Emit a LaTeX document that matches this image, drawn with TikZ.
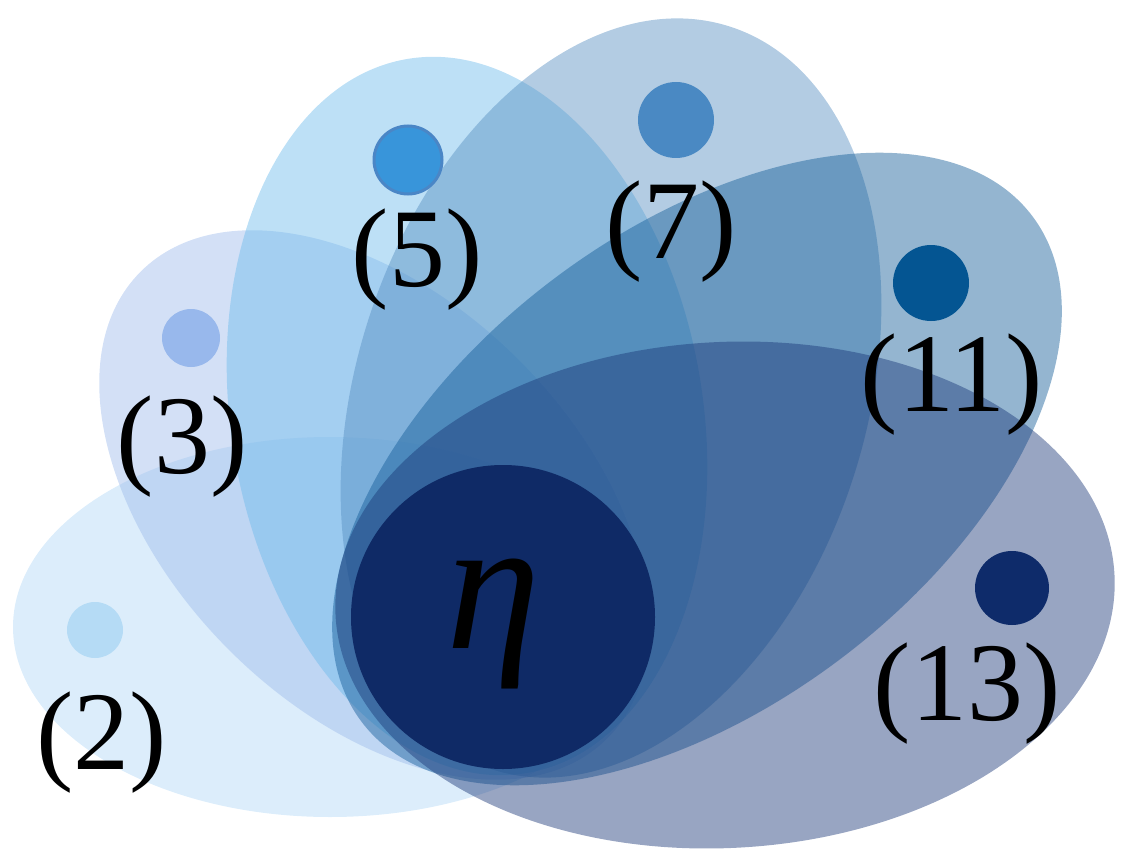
\documentclass[tikz,border=0pt]{standalone}
\usepackage{fontspec}
\setmainfont{Liberation Serif}
\definecolor{cA}{RGB}{177,215,246}
\definecolor{cB}{RGB}{157,186,235}
\definecolor{cC}{RGB}{108,186,235}
\definecolor{cD}{RGB}{86,142,193}
\definecolor{cE}{RGB}{17,91,151}
\definecolor{cF}{RGB}{26,55,119}
\definecolor{cEta}{RGB}{15,42,102}
\definecolor{d2}{RGB}{181,219,245}
\definecolor{d3}{RGB}{152,184,236}
\definecolor{d5}{RGB}{56,149,218}
\definecolor{d5r}{RGB}{74,134,198}
\definecolor{d7}{RGB}{74,137,195}
\definecolor{d11}{RGB}{4,85,146}
\definecolor{d13}{RGB}{14,43,106}
\begin{document}
\begin{tikzpicture}[x=1pt,y=-1pt,
  petal/.style={opacity=0.45},
  dotnode/.style={circle,inner sep=0pt,minimum size=#1},
  lbl/.style={inner sep=0pt,font=\fontsize{112}{120}\selectfont}]
\useasboundingbox (0,0) rectangle (1122,856);
% petals
\fill[cA,petal] (330,627) ellipse [x radius=317pt,y radius=190pt];
\fill[cB,petal,rotate around={-45:(374,505)}] (374,505) ellipse [x radius=330pt,y radius=205pt];
\fill[cC,petal,rotate around={9.45:(467,416)}] (467,416) ellipse [x radius=236pt,y radius=362pt];
\fill[cD,petal,rotate around={-17.7:(611,398)}] (611,398) ellipse [x radius=255pt,y radius=390pt];
\fill[cE,petal,rotate around={37:(697,469)}] (697,469) ellipse [x radius=420pt,y radius=238pt];
\fill[cF,petal,rotate around={3:(725,595)}] (725,595) ellipse [x radius=390pt,y radius=253pt];
% centre
\node[dotnode=304pt,fill=cEta] (eta) at (503,617) {};
\node[inner sep=0pt,font=\fontsize{190}{200}\selectfont\itshape] (etalbl) at (494,624) {η};
% dots
\node[dotnode=56pt,fill=d2] (p2) at (95,630) {};
\node[dotnode=58pt,fill=d3] (p3) at (191,338) {};
\node[dotnode=68pt,fill=d5,draw=d5r,line width=3pt] (p5) at (408,160) {};
\node[dotnode=76pt,fill=d7] (p7) at (676,120) {};
\node[dotnode=76pt,fill=d11] (p11) at (931,283) {};
\node[dotnode=74pt,fill=d13] (p13) at (1012,588) {};
% labels
\node[lbl] (l2) at (102,743) {(2)};
\node[lbl] (l3) at (182,447) {(3)};
\node[lbl] (l5) at (417,260) {(5)};
\node[lbl] (l7) at (671,232) {(7)};
\node[lbl] (l11) at (952,385) {(11)};
\node[lbl] (l13) at (967,694) {(13)};
\end{tikzpicture}
\end{document}
